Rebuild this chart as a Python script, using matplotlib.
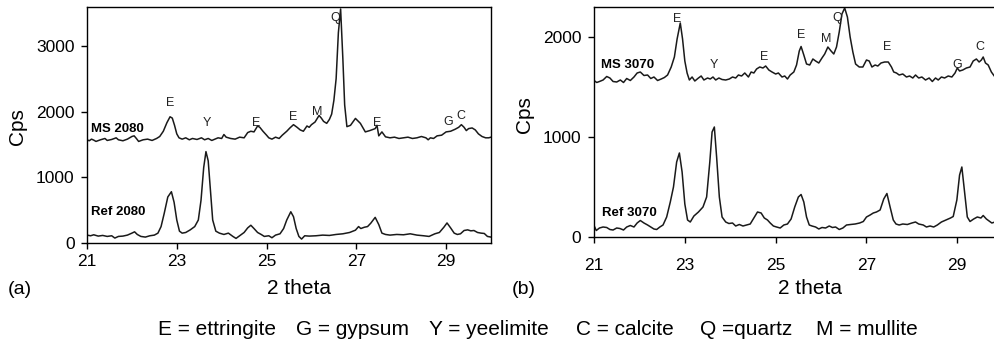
import numpy as np
import matplotlib
matplotlib.use("Agg")
from matplotlib import pyplot as plt

plt.rcParams['font.family'] = ['Liberation Sans', 'DejaVu Sans']

### (a) 2080
ms2080_x = [21.00, 21.05, 21.10, 21.15, 21.20, 21.30, 21.40, 21.45, 21.55, 21.65, 21.70, 21.80, 21.90, 22.00, 22.05,
            22.10, 22.15, 22.25, 22.35, 22.45, 22.55, 22.62, 22.70, 22.78, 22.85, 22.90, 22.95, 23.00, 23.05, 23.12,
            23.20, 23.28, 23.35, 23.45, 23.55, 23.62, 23.70, 23.78, 23.85, 23.92, 24.00, 24.05, 24.10, 24.20, 24.30,
            24.40, 24.50, 24.58, 24.65, 24.72, 24.80, 24.85, 24.92, 25.00, 25.05, 25.12, 25.20, 25.28, 25.35, 25.45,
            25.52, 25.60, 25.68, 25.75, 25.82, 25.90, 25.95, 26.00, 26.08, 26.17, 26.22, 26.27, 26.34, 26.40, 26.45,
            26.50, 26.55, 26.60, 26.65, 26.70, 26.74, 26.79, 26.87, 26.98, 27.09, 27.20, 27.30, 27.42, 27.46, 27.50,
            27.57, 27.65, 27.75, 27.85, 27.95, 28.05, 28.15, 28.25, 28.35, 28.45, 28.55, 28.60, 28.65, 28.72, 28.80,
            28.90, 29.00, 29.10, 29.20, 29.28, 29.34, 29.40, 29.45, 29.50, 29.58, 29.65, 29.72, 29.80, 29.88, 29.95,
            30.00]
ms2080_y = [1570, 1555, 1580, 1565, 1545, 1570, 1590, 1560, 1575, 1600, 1570, 1555, 1580, 1620, 1630,
            1590, 1545, 1570, 1580, 1560, 1590, 1620, 1700, 1830, 1920, 1900, 1790, 1660, 1600, 1580,
            1600, 1570, 1590, 1575, 1600, 1570, 1590, 1560, 1580, 1600, 1590, 1650, 1610, 1590, 1580,
            1610, 1600, 1680, 1700, 1690, 1780, 1760, 1700, 1640, 1600, 1580, 1610, 1590, 1640, 1700,
            1750, 1800, 1760, 1720, 1700, 1780, 1760, 1800, 1840, 1940, 1900, 1850, 1820, 1880, 1960,
            2170, 2500, 3200, 3560, 2800, 2100, 1770, 1790, 1895, 1820, 1690, 1710, 1740, 1790, 1630,
            1690, 1615, 1600, 1610, 1590, 1600, 1610, 1590, 1600, 1620, 1600, 1570, 1600, 1590, 1630,
            1640, 1690, 1700, 1730, 1760, 1800, 1760, 1710, 1740, 1750, 1720, 1660, 1620, 1600, 1600,
            1610]

ref2080_x = [21.00, 21.08, 21.15, 21.25, 21.35, 21.45, 21.55, 21.62, 21.70, 21.80, 21.90, 22.00, 22.06, 22.12, 22.20,
             22.30, 22.40, 22.50, 22.58, 22.65, 22.72, 22.80, 22.88, 22.94, 23.00, 23.06, 23.12, 23.20, 23.30, 23.40,
             23.48, 23.54, 23.60, 23.65, 23.70, 23.75, 23.80, 23.87, 23.95, 24.05, 24.15, 24.25, 24.32, 24.40, 24.50,
             24.58, 24.65, 24.72, 24.80, 24.88, 24.95, 25.05, 25.12, 25.20, 25.30, 25.38, 25.45, 25.54, 25.60, 25.66,
             25.72, 25.78, 25.85, 25.95, 26.10, 26.25, 26.40, 26.55, 26.70, 26.85, 26.98, 27.05, 27.10, 27.18, 27.25,
             27.32, 27.42, 27.50, 27.57, 27.65, 27.75, 27.90, 28.05, 28.20, 28.35, 28.50, 28.62, 28.75, 28.85, 28.95,
             29.02, 29.10, 29.18, 29.25, 29.32, 29.40, 29.48, 29.55, 29.62, 29.70, 29.78, 29.85, 29.92, 30.00]
ref2080_y = [120, 110, 125, 105, 115, 100, 110, 75, 100, 105, 120, 150, 170, 130, 100,
             90, 110, 120, 150, 250, 450, 700, 780, 620, 350, 180, 150, 160, 200, 250,
             350, 650, 1150, 1390, 1250, 800, 350, 180, 150, 130, 150, 100, 70, 110, 160,
             230, 270, 220, 160, 130, 100, 110, 80, 120, 140, 220, 350, 475, 400, 220,
             100, 60, 110, 105, 110, 120, 115, 130, 140, 160, 195, 250, 220, 240, 250,
             300, 390, 280, 150, 130, 120, 130, 125, 140, 120, 110, 100, 140, 160, 240,
             305, 230, 150, 130, 140, 190, 200, 185, 190, 160, 150, 145, 100, 90]

### (b) 3070
ms3070_x = [21.00, 21.06, 21.12, 21.20, 21.28, 21.35, 21.42, 21.50, 21.58, 21.65, 21.72, 21.80, 21.88, 21.95, 22.02,
            22.10, 22.18, 22.25, 22.32, 22.40, 22.48, 22.55, 22.62, 22.70, 22.77, 22.83, 22.90, 22.95, 23.00, 23.05,
            23.10, 23.16, 23.22, 23.30, 23.36, 23.42, 23.50, 23.56, 23.62, 23.68, 23.75, 23.82, 23.90, 23.98, 24.05,
            24.12, 24.18, 24.25, 24.32, 24.40, 24.46, 24.52, 24.58, 24.65, 24.72, 24.78, 24.85, 24.92, 25.00, 25.06,
            25.14, 25.20, 25.26, 25.32, 25.40, 25.46, 25.52, 25.56, 25.62, 25.68, 25.75, 25.82, 25.88, 25.95, 26.02,
            26.08, 26.15, 26.22, 26.28, 26.34, 26.40, 26.46, 26.52, 26.58, 26.64, 26.70, 26.76, 26.84, 26.92, 27.00,
            27.06, 27.12, 27.19, 27.25, 27.32, 27.40, 27.48, 27.55, 27.60, 27.66, 27.72, 27.80, 27.88, 27.95, 28.02,
            28.08, 28.15, 28.22, 28.30, 28.38, 28.45, 28.52, 28.58, 28.65, 28.72, 28.80, 28.88, 28.95, 29.00, 29.05,
            29.12, 29.20, 29.28, 29.35, 29.42, 29.48, 29.53, 29.57, 29.62, 29.68, 29.75, 29.83]
ms3070_y = [1565, 1545, 1555, 1570, 1605, 1590, 1555, 1550, 1570, 1545, 1585, 1565, 1600, 1640, 1650,
            1615, 1620, 1585, 1600, 1565, 1580, 1595, 1620, 1700, 1800, 1980, 2140, 1980, 1760, 1640,
            1570, 1600, 1560, 1590, 1610, 1570, 1590, 1580, 1600, 1570, 1590, 1575, 1570, 1580, 1600,
            1590, 1620, 1610, 1640, 1600, 1650, 1640, 1680, 1700, 1690, 1710, 1670, 1650, 1630, 1640,
            1600, 1610, 1580, 1620, 1650, 1720, 1860, 1905, 1820, 1730, 1720, 1780, 1760, 1740, 1790,
            1830, 1900, 1860, 1830, 1900, 2050, 2230, 2290, 2200, 2000, 1850, 1730, 1700, 1700, 1770,
            1760, 1700, 1720, 1710, 1740, 1750, 1750, 1700, 1650, 1640, 1620, 1630, 1600, 1610, 1590,
            1620, 1590, 1600, 1570, 1590, 1555, 1590, 1570, 1600, 1590, 1610, 1600, 1640, 1690, 1660,
            1670, 1690, 1700, 1760, 1780, 1750, 1770, 1800, 1740, 1720, 1650, 1600]

ref3070_x = [21.00, 21.05, 21.12, 21.20, 21.28, 21.35, 21.42, 21.50, 21.57, 21.65, 21.72, 21.80, 21.88, 21.95, 22.02,
             22.10, 22.18, 22.25, 22.32, 22.38, 22.45, 22.52, 22.60, 22.68, 22.75, 22.82, 22.88, 22.94, 23.00, 23.06,
             23.12, 23.20, 23.30, 23.40, 23.48, 23.55, 23.60, 23.65, 23.70, 23.76, 23.82, 23.90, 23.97, 24.05, 24.12,
             24.20, 24.28, 24.36, 24.44, 24.52, 24.60, 24.68, 24.75, 24.82, 24.88, 24.95, 25.02, 25.10, 25.18, 25.26,
             25.34, 25.42, 25.50, 25.56, 25.62, 25.68, 25.74, 25.80, 25.88, 25.95, 26.02, 26.10, 26.18, 26.25, 26.32,
             26.40, 26.48, 26.56, 26.65, 26.75, 26.85, 26.93, 27.00, 27.08, 27.15, 27.22, 27.30, 27.38, 27.45, 27.52,
             27.59, 27.65, 27.72, 27.80, 27.90, 28.00, 28.08, 28.15, 28.25, 28.32, 28.40, 28.48, 28.56, 28.65, 28.75,
             28.85, 28.91, 28.99, 29.05, 29.10, 29.16, 29.22, 29.28, 29.36, 29.44, 29.52, 29.57, 29.64, 29.70, 29.76,
             29.83]
ref3070_y = [115, 65, 90, 100, 95, 75, 70, 90, 85, 70, 100, 115, 100, 140, 165,
             140, 120, 100, 80, 75, 100, 120, 200, 350, 500, 750, 840, 650, 330, 170,
             150, 210, 250, 300, 400, 750, 1050, 1100, 800, 400, 200, 150, 135, 140, 110,
             125, 110, 120, 130, 190, 250, 240, 190, 170, 140, 110, 100, 90, 120, 130,
             180, 300, 400, 425, 350, 200, 120, 110, 100, 80, 95, 90, 110, 95, 100,
             75, 90, 120, 125, 130, 140, 155, 200, 220, 240, 250, 270, 380, 435, 300,
             170, 130, 120, 130, 125, 140, 150, 130, 120, 100, 110, 100, 120, 150, 170,
             190, 205, 370, 620, 700, 450, 200, 155, 180, 200, 190, 215, 180, 160, 140,
             150]

### ピークのラベル
peak_a = ["E", "Y", "E", "E", "M", "Q", "E", "G", "C"]
peak_a_x = [22.85, 23.67, 24.76, 25.60, 26.13, 26.52, 27.46, 29.05, 29.33]
peak_a_y = [2130, 1825, 1825, 1915, 1990, 3420, 1825, 1835, 1925]
peak_b = ["E", "Y", "E", "E", "M", "Q", "E", "G", "C"]
peak_b_x = [22.84, 23.63, 24.74, 25.56, 26.12, 26.35, 27.46, 28.99, 29.50]
peak_b_y = [2185, 1725, 1800, 2020, 1985, 2185, 1905, 1715, 1900]

legend_items = ["E = ettringite", "G = gypsum", "Y = yeelimite", "C = calcite", "Q =quartz", "M = mullite"]
legend_x = [158, 296, 429, 576, 700, 816]

W, H = 995, 344
fig = plt.figure(figsize=(W / 100, H / 100), dpi=100)

ax1 = fig.add_axes([87 / W, 1 - 243 / H, 404 / W, 236 / H])
ax2 = fig.add_axes([594 / W, 1 - 237 / H, 401 / W, 230 / H])

lc = "#1a1a1a"
ax1.plot(ms2080_x, ms2080_y, color=lc, lw=1.1)
ax1.plot(ref2080_x, ref2080_y, color=lc, lw=1.1)
ax2.plot(ms3070_x, ms3070_y, color=lc, lw=1.1)
ax2.plot(ref3070_x, ref3070_y, color=lc, lw=1.1)

ax1.set_xlim(21, 30)
ax1.set_ylim(0, 3590)
ax1.set_yticks([0, 1000, 2000, 3000])
ax2.set_xlim(21, 29.83)
ax2.set_ylim(0, 2300)
ax2.set_yticks([0, 1000, 2000])
ax2.spines['right'].set_visible(False)

for ax, xpad in [(ax1, 4), (ax2, 11)]:
    ax.set_xticks([21, 23, 25, 27, 29])
    ax.tick_params(axis='x', direction='out', length=4, width=1, labelsize=12.5, pad=xpad)
    ax.tick_params(axis='y', direction='out', length=4, width=1, labelsize=12.5, pad=5)
    for s in ax.spines.values():
        s.set_linewidth(1.0)

for t, x, y in zip(peak_a, peak_a_x, peak_a_y):
    ax1.text(x, y, t, ha='center', va='center', fontsize=9, color='#222')
for t, x, y in zip(peak_b, peak_b_x, peak_b_y):
    ax2.text(x, y, t, ha='center', va='center', fontsize=9, color='#222')

ax1.text(21.08, 1735, "MS 2080", ha='left', va='center', fontsize=9.5, fontweight='bold')
ax1.text(21.08, 470, "Ref 2080", ha='left', va='center', fontsize=9.5, fontweight='bold')
ax2.text(21.15, 1715, "MS 3070", ha='left', va='center', fontsize=9.5, fontweight='bold')
ax2.text(21.17, 235, "Ref 3070", ha='left', va='center', fontsize=9.5, fontweight='bold')

fig.text(17 / W, 1 - 127 / H, "Cps", rotation=90, ha='center', va='center', fontsize=15)
fig.text(525 / W, 1 - 115 / H, "Cps", rotation=90, ha='center', va='center', fontsize=15)
fig.text(299 / W, 1 - 289 / H, "2 theta", ha='center', va='center', fontsize=15)
fig.text(810 / W, 1 - 289 / H, "2 theta", ha='center', va='center', fontsize=15)
fig.text(8 / W, 1 - 290 / H, "(a)", ha='left', va='center', fontsize=14)
fig.text(512 / W, 1 - 290 / H, "(b)", ha='left', va='center', fontsize=14)

for t, x in zip(legend_items, legend_x):
    fig.text(x / W, 1 - 335 / H, t, ha='left', va='baseline', fontsize=15)

fig.savefig("out.png", dpi=100)
